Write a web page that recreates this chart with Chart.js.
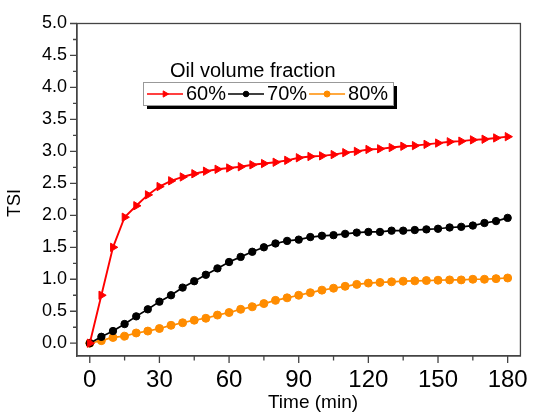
<!DOCTYPE html>
<html>
<head>
<meta charset="utf-8">
<script src="https://cdn.jsdelivr.net/npm/chart.js@4.4.1/dist/chart.umd.min.js"></script>
<style>
  body { margin: 0; background: #fff; }
  canvas { display: block; }
</style>
</head>
<body>
<canvas id="tsiChart" width="538" height="412"></canvas>
<script>
const times = [0, 5, 10, 15, 20, 25, 30, 35, 40, 45, 50, 55, 60, 65, 70, 75, 80, 85, 90,
  95, 100, 105, 110, 115, 120, 125, 130, 135, 140, 145, 150, 155, 160, 165, 170, 175, 180];

const tsi60 = [0, 0.75, 1.50, 1.97, 2.15, 2.32, 2.45, 2.54, 2.60, 2.65, 2.69, 2.72, 2.74,
  2.76, 2.79, 2.81, 2.83, 2.86, 2.90, 2.92, 2.93, 2.95, 2.98, 3.00, 3.03, 3.04, 3.06,
  3.08, 3.09, 3.11, 3.13, 3.15, 3.16, 3.18, 3.19, 3.21, 3.23];
const tsi70 = [0, 0.10, 0.19, 0.30, 0.42, 0.53, 0.65, 0.75, 0.87, 0.97, 1.07, 1.17, 1.27,
  1.35, 1.43, 1.50, 1.56, 1.60, 1.62, 1.66, 1.68, 1.69, 1.71, 1.73, 1.74, 1.74, 1.76,
  1.76, 1.77, 1.78, 1.79, 1.81, 1.82, 1.84, 1.88, 1.91, 1.96];
const tsi80 = [0, 0.04, 0.09, 0.11, 0.16, 0.19, 0.23, 0.28, 0.32, 0.36, 0.39, 0.44, 0.48,
  0.53, 0.57, 0.62, 0.67, 0.71, 0.75, 0.79, 0.83, 0.86, 0.89, 0.92, 0.94, 0.95, 0.96,
  0.97, 0.975, 0.98, 0.985, 0.99, 0.99, 1.0, 1.0, 1.01, 1.02];

const seriesLabels = ["60%", "70%", "80%"];
const legendTitle = "Oil volume fraction";
const xTicks = [0, 30, 60, 90, 120, 150, 180];
const xMinorTicks = [15, 45, 75, 105, 135, 165];
const yTicks = [0, 0.5, 1, 1.5, 2, 2.5, 3, 3.5, 4, 4.5, 5];
const yMinorTicks = [0.25, 0.75, 1.25, 1.75, 2.25, 2.75, 3.25, 3.75, 4.25, 4.75];
const xTitle = "Time (min)";
const yTitle = "TSI";

const FONT = "'Liberation Sans', Arial, sans-serif";

const toPoints = (vals) => vals.map((v, i) => ({ x: times[i], y: v }));

// frame, tick marks and axis titles
const framePlugin = {
  id: "frame",
  beforeDatasetsDraw(chart) {
    const { ctx, chartArea: a, scales: { x, y } } = chart;
    ctx.save();
    ctx.strokeStyle = "#444";
    ctx.lineWidth = 1.3;
    ctx.strokeRect(a.left, a.top, a.right - a.left, a.bottom - a.top);
    ctx.beginPath();
    xTicks.forEach((v) => {
      const px = x.getPixelForValue(v);
      ctx.moveTo(px, a.bottom); ctx.lineTo(px, a.bottom + 7);
    });
    xMinorTicks.forEach((v) => {
      const px = x.getPixelForValue(v);
      ctx.moveTo(px, a.bottom); ctx.lineTo(px, a.bottom + 4.5);
    });
    yTicks.forEach((v) => {
      const py = y.getPixelForValue(v);
      ctx.moveTo(a.left, py); ctx.lineTo(a.left - 7, py);
    });
    yMinorTicks.forEach((v) => {
      const py = y.getPixelForValue(v);
      ctx.moveTo(a.left, py); ctx.lineTo(a.left - 4, py);
    });
    ctx.stroke();

    ctx.fillStyle = "#000";
    ctx.font = "19px " + FONT;
    ctx.textAlign = "center";
    ctx.textBaseline = "middle";
    ctx.fillText(xTitle, 313, 403);
    ctx.translate(15, 203);
    ctx.rotate(-Math.PI / 2);
    ctx.font = "18px " + FONT;
    ctx.fillText(yTitle, 0, 0);
    ctx.restore();
  },
};

// legend box with shadow, drawn inside the plot
const boxLegend = {
  id: "boxLegend",
  afterDatasetsDraw(chart) {
    const { ctx } = chart;
    const bx = 143, by = 82, bw = 250, bh = 23;
    ctx.save();
    ctx.fillStyle = "#000";
    ctx.font = "20px " + FONT;
    ctx.textBaseline = "middle";
    ctx.textAlign = "left";
    ctx.fillText(legendTitle, 170, 71);

    ctx.fillStyle = "#000";
    ctx.fillRect(bx + 4, by + 4, bw, bh);
    ctx.fillStyle = "#fff";
    ctx.fillRect(bx, by, bw, bh);
    ctx.strokeStyle = "#999";
    ctx.lineWidth = 1;
    ctx.strokeRect(bx + 0.5, by + 0.5, bw, bh);

    let lx = 147;
    const ly = by + bh / 2 + 0.5;
    chart.data.datasets.forEach((ds) => {
      ctx.strokeStyle = ds.borderColor;
      ctx.fillStyle = ds.backgroundColor;
      ctx.lineWidth = 1.5;
      ctx.beginPath();
      ctx.moveTo(lx, ly); ctx.lineTo(lx + 36, ly);
      ctx.stroke();
      ctx.lineWidth = 1;
      Chart.helpers.drawPoint(ctx, {
        pointStyle: ds.pointStyle,
        rotation: ds.pointRotation || 0,
        radius: ds.pointRadius * 0.75,
        borderWidth: 1,
      }, lx + 18, ly);
      ctx.fillStyle = "#000";
      ctx.fillText(ds.label, lx + 39, ly);
      lx += 41 + ctx.measureText(ds.label).width;
    });
    ctx.restore();
  },
};

const ctx = document.getElementById("tsiChart").getContext("2d");

const tsiChart = new Chart(ctx, {
  type: "line",
  data: {
    datasets: [
      {
        label: seriesLabels[0],
        data: toPoints(tsi60),
        borderColor: "#ff0000",
        backgroundColor: "#ff0000",
        borderWidth: 1.9,
        pointStyle: "triangle",
        pointRotation: 90,
        pointRadius: 4.8,
        pointBorderWidth: 1,
        clip: false,
      },
      {
        label: seriesLabels[1],
        data: toPoints(tsi70),
        borderColor: "#000000",
        backgroundColor: "#000000",
        borderWidth: 1.7,
        pointStyle: "circle",
        pointRadius: 3.7,
        pointBorderWidth: 1,
        clip: false,
      },
      {
        label: seriesLabels[2],
        data: toPoints(tsi80),
        borderColor: "#ff8c00",
        backgroundColor: "#ff8c00",
        borderWidth: 1.7,
        pointStyle: "circle",
        pointRadius: 4,
        pointBorderWidth: 1,
        clip: false,
      },
    ],
  },
  options: {
    responsive: false,
    animation: false,
    devicePixelRatio: 1,
    layout: {
      padding: { left: 0, top: 23.5, right: 11, bottom: 0 },
    },
    plugins: {
      legend: { display: false },
      tooltip: { enabled: false },
    },
    scales: {
      x: {
        type: "linear",
        min: -5.5,
        max: 185.5,
        afterBuildTicks: (scale) => {
          scale.ticks = xTicks.map((v) => ({ value: v }));
        },
        afterFit: (scale) => {
          scale.height = 56;
        },
        ticks: {
          autoSkip: false,
          maxRotation: 0,
          padding: 10,
          color: "#000",
          font: { family: FONT, size: 24 },
        },
        grid: { display: false, drawTicks: false },
        border: { display: true, color: "#444", width: 1.3 },
      },
      y: {
        min: -0.2,
        max: 5.0,
        afterBuildTicks: (scale) => {
          scale.ticks = yTicks.map((v) => ({ value: v }));
        },
        afterFit: (scale) => {
          scale.width = 77;
        },
        ticks: {
          padding: 10,
          color: "#000",
          font: { family: FONT, size: 18 },
          callback: (value) => Number(value).toFixed(1),
        },
        grid: { display: false, drawTicks: false },
        border: { display: true, color: "#444", width: 1.3 },
      },
    },
  },
  plugins: [framePlugin, boxLegend],
});
</script>
</body>
</html>
